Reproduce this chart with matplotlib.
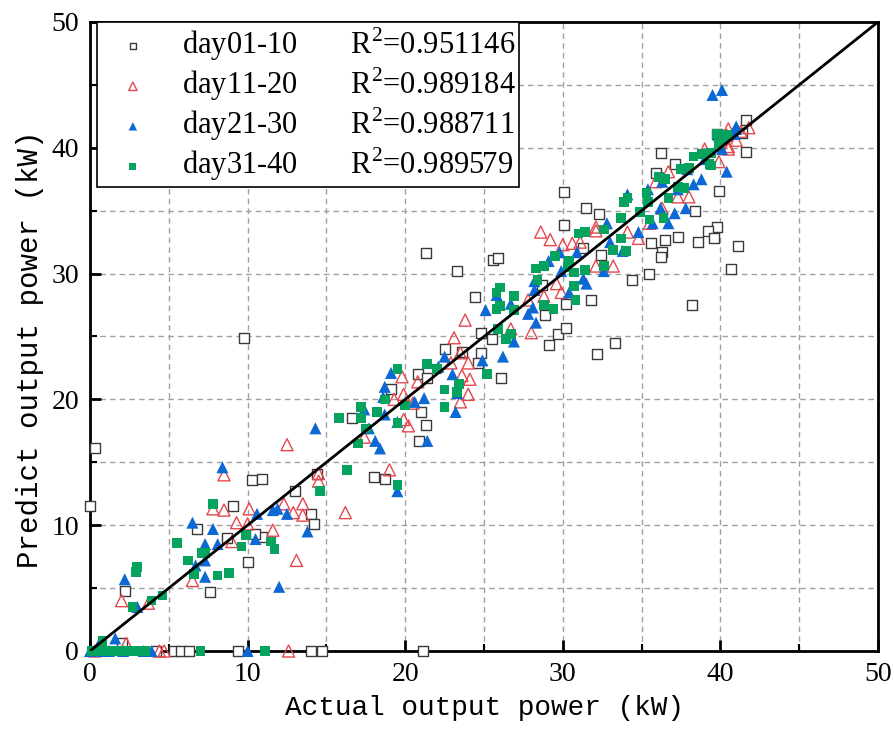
import matplotlib
matplotlib.use("Agg")
import matplotlib.pyplot as plt

# day01-10 (open squares)
d1_x = [0.0, 0.3, 9.8, 2.2, 7.6, 10.0, 10.9, 10.5, 9.1, 6.8, 8.7, 10.3, 10.9, 2.0,
        13.0, 14.4, 14.0, 14.2, 18.0, 18.7, 16.6, 19.1, 20.8, 21.4, 21.0, 21.3, 20.9,
        21.3, 23.3, 25.6, 25.9, 24.4, 24.8, 25.5, 22.5, 23.6, 24.8, 24.6, 26.1,
        30.1, 30.2, 29.7, 30.2, 29.1, 28.9, 28.7,
        39.8, 41.6, 36.2, 37.1, 39.9, 30.1, 31.5, 32.3, 38.4, 39.8, 39.2, 39.6, 38.6,
        37.3, 36.5, 35.6, 36.3, 36.2, 41.1, 40.7, 35.5, 34.4, 32.4, 31.3, 31.8, 38.2,
        33.3, 32.2, 41.6, 41.4, 35.9,
        4.2, 5.3, 5.8, 6.3, 9.4, 14.0, 14.7, 21.1]
d1_y = [11.5, 16.1, 24.9, 4.8, 4.7, 7.1, 9.1, 9.3, 11.5, 9.7, 9.0, 13.6, 13.7, 0.6,
        12.7, 14.1, 10.9, 10.1, 13.8, 13.7, 18.5, 20.8, 22.0, 21.7, 19.0, 18.0, 16.7,
        31.6, 30.2, 31.1, 31.2, 28.1, 25.3, 24.8, 24.0, 23.8, 23.7, 22.9, 21.7,
        33.9, 27.6, 25.2, 25.7, 24.3, 26.7, 29.1,
        41.1, 39.7, 39.6, 38.7, 36.6, 36.5, 35.2, 34.7, 35.0, 33.7, 33.4, 32.8, 32.5,
        32.9, 32.7, 32.4, 31.7, 31.3, 32.2, 30.4, 30.0, 29.5, 31.5, 32.0, 27.9, 27.5,
        24.5, 23.6, 42.2, 41.2, 38.0,
        0.0, 0.0, 0.0, 0.0, 0.0, 0.0, 0.0, 0.0]

# day11-20 (open triangles)
d2_x = [2.0, 3.7, 6.5, 7.8, 8.5, 9.3, 10.1, 10.0, 9.0, 8.5, 11.6, 2.3,
        12.5, 14.5, 14.5, 12.3, 13.5, 12.9, 13.5, 16.2, 19.0, 17.4, 19.8, 20.8, 19.9,
        19.3, 19.9, 20.2, 20.5, 13.1,
        28.6, 29.2, 30.0, 30.6, 23.8, 23.1, 23.5, 24.0, 23.6, 24.1, 24.0, 23.5, 22.9,
        27.8, 26.7, 28.0, 28.8, 29.6, 29.9,
        32.1, 32.1, 31.1, 32.1, 33.2, 34.8, 34.1, 39.0, 39.9, 40.4, 41.3, 40.5, 36.7,
        35.9, 37.3, 38.0, 36.3, 35.5, 40.5, 40.5, 41.0, 41.8,
        0.3, 4.4, 4.7, 12.6]
d2_y = [4.0, 3.8, 5.6, 11.3, 11.2, 10.2, 11.3, 10.1, 8.7, 14.0, 9.6, 0.6,
        16.4, 13.5, 14.1, 11.7, 11.7, 11.0, 10.8, 11.0, 14.4, 17.0, 21.8, 21.4, 20.4,
        20.0, 18.4, 17.9, 19.7, 7.2,
        33.3, 32.7, 32.3, 32.4, 26.3, 24.9, 23.7, 22.9, 21.9, 21.6, 20.4, 19.8, 22.9,
        27.9, 25.6, 25.3, 28.2, 29.2, 28.5,
        33.7, 33.4, 32.5, 30.6, 30.6, 32.8, 33.3, 39.9, 38.9, 41.0, 41.3, 39.9, 38.1,
        37.3, 36.1, 36.1, 35.2, 34.0, 41.5, 40.1, 40.6, 41.6,
        0.0, 0.0, 0.0, 0.0]

# day21-30 (filled triangles)
d3_x = [2.2, 3.0, 1.6, 6.5, 7.8, 7.3, 8.1, 7.3, 6.7, 7.3, 10.6, 11.6, 10.5, 12.0,
        14.3, 11.9, 12.5, 13.8, 8.4,
        19.1, 18.7, 18.6, 17.4, 18.7, 17.7, 18.1, 18.4, 19.5, 19.5, 20.6, 21.2, 21.4,
        22.5, 22.1, 23.0, 23.3, 23.2, 24.9, 26.2, 25.1, 25.8, 26.7, 27.8, 28.1, 28.3,
        26.9, 28.2, 28.2, 29.1, 29.8, 29.9, 30.4, 30.9,
        33.0, 31.3, 31.5, 32.6, 33.8, 34.8, 35.7, 36.7, 37.1, 37.8, 36.2, 32.8, 34.1,
        35.4, 37.3, 38.3, 38.8, 37.9, 39.0, 40.4, 40.1, 40.9, 41.0, 39.9, 36.3,
        39.5, 40.1, 41.0, 0.5,
        0.0, 0.6, 1.2, 2.1, 3.4, 3.9, 10.0]
d3_y = [5.7, 3.5, 1.0, 10.2, 9.7, 8.5, 8.5, 7.2, 6.8, 5.9, 10.9, 11.2, 8.9, 5.1,
        17.7, 11.3, 10.9, 9.5, 14.6,
        22.1, 21.0, 20.2, 19.2, 18.8, 17.7, 16.7, 16.1, 18.2, 12.7, 19.8, 20.1, 16.7,
        23.4, 22.6, 22.0, 20.5, 19.0, 23.1, 23.4, 27.1, 28.3, 27.6, 26.8, 27.3, 26.1,
        24.6, 28.7, 29.4, 31.0, 31.7, 30.2, 28.5, 31.7,
        32.5, 29.6, 29.2, 30.2, 31.8, 33.3, 34.0, 34.0, 34.8, 35.2, 35.2, 34.0, 36.3,
        36.7, 36.7, 37.1, 37.5, 38.3, 39.1, 38.1, 39.9, 41.1, 41.7, 41.0, 37.3,
        44.2, 44.6, 41.5, 0.4,
        0.0, 0.0, 0.0, 0.0, 0.0, 0.0, 0.0]

# day31-40 (filled squares)
d4_x = [3.0, 2.9, 2.7, 3.9, 4.6, 0.8, 5.5, 6.2, 6.6, 7.1, 7.3, 8.1, 8.8, 7.8, 9.6,
        9.9, 11.5, 11.7,
        15.8, 17.2, 17.2, 18.2, 17.5, 17.0, 16.3, 14.6, 19.5, 19.5, 21.4, 18.7, 19.5, 20.0,
        22.0, 22.5, 23.4, 23.3, 22.5, 25.2, 25.9, 26.4, 26.7, 25.8, 26.0, 26.0, 25.8,
        26.9, 26.9, 28.3, 28.4, 28.8, 29.5, 28.8, 29.4, 30.7, 30.8, 30.7, 30.4, 31.0,
        31.4, 32.6, 33.7, 33.9, 34.1, 35.3, 35.4, 34.9, 35.5, 36.4, 36.7, 37.3, 37.7,
        36.1, 36.5, 37.5, 38.0, 38.3, 38.8, 39.3, 39.4, 39.9, 39.8, 40.2, 31.4, 30.3,
        32.6, 33.7, 34.0, 33.2, 39.4, 40.0, 40.4,
        0.1, 0.4, 0.7, 1.0, 1.3, 1.6, 2.0, 2.3, 2.6, 2.9, 3.2, 3.5, 7.0, 11.1]
d4_y = [6.7, 6.3, 3.5, 4.0, 4.4, 0.8, 8.6, 7.2, 6.1, 7.8, 7.8, 6.0, 6.2, 11.7, 8.3,
        9.2, 8.7, 8.1,
        18.5, 19.4, 18.5, 19.0, 17.7, 16.5, 14.4, 12.7, 13.2, 22.4, 22.8, 20.0, 18.1, 19.5,
        22.4, 20.8, 21.2, 20.6, 19.4, 22.0, 25.6, 24.8, 25.2, 27.2, 27.4, 28.9, 28.5,
        28.2, 27.1, 30.4, 29.5, 30.6, 31.4, 27.5, 27.2, 30.1, 27.9, 29.0, 31.0, 33.2,
        33.3, 33.5, 34.4, 35.7, 36.0, 36.4, 35.7, 34.9, 34.3, 34.4, 36.0, 36.9, 36.8,
        37.7, 37.5, 38.3, 38.4, 39.3, 39.5, 38.7, 39.6, 40.4, 41.1, 40.7, 30.3, 30.5,
        30.6, 32.8, 31.8, 31.9, 38.6, 40.6, 41.0,
        0, 0, 0, 0, 0, 0, 0, 0, 0, 0, 0, 0, 0, 0]

labels = ["day01-10", "day11-20", "day21-30", "day31-40"]
r2 = ["0.951146", "0.989184", "0.988711", "0.989579"]

plt.rcParams["mathtext.fontset"] = "custom"
plt.rcParams["mathtext.rm"] = "Liberation Serif"

fig = plt.figure(figsize=(8.94, 7.38), dpi=100)
ax = fig.add_axes([0.1007, 0.1179, 0.8814, 0.8523])

lab = [f"{l}       R$^2$=" + v for l, v in zip(labels, r2)]
ax.scatter(d1_x, d1_y, marker="s", s=42, facecolors="white", edgecolors="#3a3a3a",
           linewidths=1.0, clip_on=False, zorder=3, label=lab[0])
ax.scatter(d2_x, d2_y, marker="^", s=75, facecolors="none", edgecolors="#e4474c",
           linewidths=1.0, clip_on=False, zorder=4, label=lab[1])
ax.scatter(d3_x, d3_y, marker="^", s=75, facecolors="#0b68d4", edgecolors="none",
           clip_on=False, zorder=5, label=lab[2])
ax.scatter(d4_x, d4_y, marker="s", s=48, facecolors="#05a35e", edgecolors="none",
           clip_on=False, zorder=6, label=lab[3])
ax.plot([0, 50], [0, 50], color="black", lw=2, zorder=7)

ax.set_xlim(0, 50)
ax.set_ylim(0, 50)
ax.set_xticks(range(0, 51, 10))
ax.set_yticks(range(0, 51, 10))
ax.set_xticks(range(5, 50, 10), minor=True)
ax.set_yticks(range(5, 50, 10), minor=True)
ax.tick_params(which="major", direction="in", length=8, width=2, labelsize=20, pad=8)
ax.tick_params(which="minor", direction="in", length=5, width=1.5)
for t in ax.get_xticklabels() + ax.get_yticklabels():
    t.set_fontfamily("Liberation Serif")
ax.grid(which="both", ls=(0, (4, 3)), color="#a0a0a0", lw=1)
for sp in ax.spines.values():
    sp.set_linewidth(2)

ax.set_xlabel("Actual output power (kW)", fontsize=20, family="Liberation Mono", labelpad=6)
ax.set_ylabel("Predict output power (kW)", fontsize=21, family="Liberation Mono", labelpad=6)
ax.yaxis.set_label_coords(-0.058, 0.48)

leg = ax.legend(loc="upper left", bbox_to_anchor=(0.009, 1.0), borderaxespad=0,
                frameon=True, fancybox=False, edgecolor="black", framealpha=1,
                markerscale=0.7, handletextpad=0.55, handlelength=2.1,
                labelspacing=0.08, borderpad=0.12,
                prop={"family": "Liberation Serif", "size": 22})
leg.get_frame().set_linewidth(1.2)
leg.set_zorder(10)

fig.savefig("out.png", dpi=100)
